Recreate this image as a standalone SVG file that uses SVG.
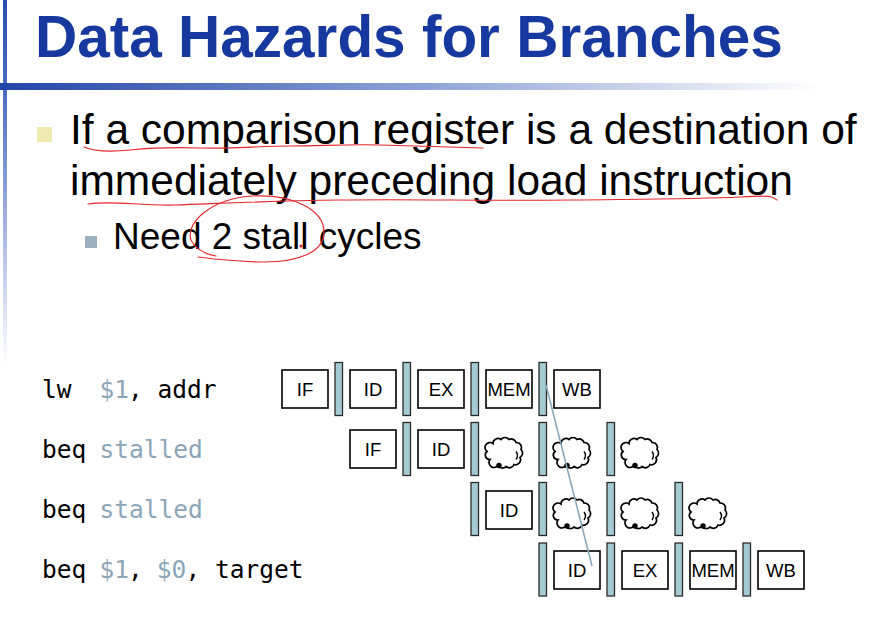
<svg xmlns="http://www.w3.org/2000/svg" xmlns:xlink="http://www.w3.org/1999/xlink" width="892" height="619" viewBox="0 0 892 619">
  <defs>
    <linearGradient id="rule-h" x1="0" y1="0" x2="1" y2="0">
      <stop offset="0" stop-color="#2244a8"/>
      <stop offset="0.5" stop-color="#8aa0d4"/>
      <stop offset="1" stop-color="#ffffff"/>
    </linearGradient>
    <linearGradient id="rule-v" x1="0" y1="0" x2="0" y2="1">
      <stop offset="0" stop-color="#2a4fb0"/>
      <stop offset="0.25" stop-color="#4d6cc0"/>
      <stop offset="1" stop-color="#ffffff"/>
    </linearGradient>
    <!-- bubble used for a stalled stage -->
    <g id="cloud">
      <path d="M5,22 A4.5,4.5 0 0 1 2,14 A5,5 0 0 1 8,6 A5,5 0 0 1 16,2 A5,5 0 0 1 24,2 A5,5 0 0 1 31,5 A5,5 0 0 1 36,12 A5,5 0 0 1 35,20 A5,5 0 0 1 29,27 A5,5 0 0 1 21,29 A5,5 0 0 1 13,28 A5,5 0 0 1 5,22 Z" fill="#fff" stroke="#000" stroke-width="1.7"/>
      <path d="M31,14 Q34,18 31,22" fill="none" stroke="#000" stroke-width="1.4"/>
      <circle cx="14" cy="28" r="2.7" fill="#000"/>
    </g>
  </defs>
  <style>
    .title { font-family: "Liberation Sans", Arial, sans-serif; font-weight: bold; font-size: 58.5px; fill: #17399f; }
    .body { font-family: "Liberation Sans", Arial, sans-serif; fill: #000; }
    .box { fill: #fff; stroke: #000; stroke-width: 1.6; }
    .bar { fill: #a4cad3; stroke: #2b2b2b; stroke-width: 1.3; }
    .lbl { font-family: "Liberation Sans", Arial, sans-serif; font-size: 18.5px; text-anchor: middle; fill: #000; }
    .code { font-family: "DejaVu Sans Mono", monospace; font-size: 24.5px; fill: #000; white-space: pre; }
    .dim { fill: #8ca5b8; }
    .ink { fill: none; stroke: #e3262b; stroke-width: 1.2; stroke-linecap: round; }
  </style>

  <rect width="892" height="619" fill="#fff"/>

  <!-- slide frame rules -->
  <rect x="3" y="0" width="4" height="365" fill="url(#rule-v)"/>
  <rect x="0" y="83" width="820" height="7" fill="url(#rule-h)"/>

  <text class="title" x="35" y="57">Data Hazards for Branches</text>

  <!-- bullets -->
  <rect x="37" y="127" width="15" height="15" fill="#eeeab0"/>
  <text class="body" x="70" y="144" font-size="42.5">If a comparison register is a destination of</text>
  <text class="body" x="70" y="195" font-size="42.5">immediately preceding load instruction</text>
  <rect x="85" y="236" width="12" height="12" fill="#9cb0c2"/>
  <text class="body" x="113" y="249" font-size="37">Need 2 stall cycles</text>

  <!-- hand annotations -->
  <g id="annotations">
    <path class="ink" d="M84,147 C95,152 110,152 130,150 S170,147 200,148 S260,146 290,146 S350,144 380,145 S440,147 483,148"/>
    <path class="ink" d="M88,204 C110,200 140,206 175,205 S260,201 340,200 S480,201 570,200 S700,199 740,197 S770,197 777,200"/>
    <path class="ink" d="M216,256 C205,254 196,250 191,240 C185,222 213,198 253,196 C293,194 324,210 324,232 C324,252 299,262 264,262 C239,262 214,259 198,257"/>
    <circle cx="301" cy="246" r="1.6" fill="#e3262b"/>
  </g>

  <!-- instruction column, laid out on a fixed character grid -->
  <g id="instructions">
    <text class="code" x="42" y="398">lw</text>
    <text class="code dim" x="99.4" y="398">$1</text>
    <text class="code" x="128.1" y="398" xml:space="preserve">, addr</text>

    <text class="code" x="42" y="458">beq</text>
    <text class="code dim" x="99.4" y="458">stalled</text>

    <text class="code" x="42" y="518">beq</text>
    <text class="code dim" x="99.4" y="518">stalled</text>

    <text class="code" x="42" y="578">beq</text>
    <text class="code dim" x="99.4" y="578">$1</text>
    <text class="code" x="128.1" y="578">,</text>
    <text class="code dim" x="156.8" y="578">$0</text>
    <text class="code" x="185.5" y="578" xml:space="preserve">, target</text>
  </g>

  <!-- pipeline registers -->
  <g id="registers">
    <rect class="bar" x="335" y="362.5" width="7.5" height="53"/>
    <rect class="bar" x="403" y="362.5" width="7.5" height="53"/>
    <rect class="bar" x="471" y="362.5" width="7.5" height="53"/>
    <rect class="bar" x="539" y="362.5" width="7.5" height="53"/>

    <rect class="bar" x="403" y="422.5" width="7.5" height="53"/>
    <rect class="bar" x="471" y="422.5" width="7.5" height="53"/>
    <rect class="bar" x="539" y="422.5" width="7.5" height="53"/>
    <rect class="bar" x="607" y="422.5" width="7.5" height="53"/>

    <rect class="bar" x="471" y="482.5" width="7.5" height="53"/>
    <rect class="bar" x="539" y="482.5" width="7.5" height="53"/>
    <rect class="bar" x="607" y="482.5" width="7.5" height="53"/>
    <rect class="bar" x="675" y="482.5" width="7.5" height="53"/>

    <rect class="bar" x="539" y="543" width="7.5" height="53"/>
    <rect class="bar" x="607" y="543" width="7.5" height="53"/>
    <rect class="bar" x="675" y="543" width="7.5" height="53"/>
    <rect class="bar" x="743" y="543" width="7.5" height="53"/>
  </g>

  <!-- lw $1, addr -->
  <g id="lw-if"><rect class="box" x="282" y="370" width="46" height="38"/><text class="lbl" x="305" y="396">IF</text></g>
  <g id="lw-id"><rect class="box" x="350" y="370" width="46" height="38"/><text class="lbl" x="373" y="396">ID</text></g>
  <g id="lw-ex"><rect class="box" x="418" y="370" width="46" height="38"/><text class="lbl" x="441" y="396">EX</text></g>
  <g id="lw-mem"><rect class="box" x="486" y="370" width="46" height="38"/><text class="lbl" x="509" y="396">MEM</text></g>
  <g id="lw-wb"><rect class="box" x="554" y="370" width="46" height="38"/><text class="lbl" x="577" y="396">WB</text></g>

  <!-- beq, first stalled slot -->
  <g id="s1-if"><rect class="box" x="350" y="430" width="46" height="38"/><text class="lbl" x="373" y="456">IF</text></g>
  <g id="s1-id"><rect class="box" x="418" y="430" width="46" height="38"/><text class="lbl" x="441" y="456">ID</text></g>
  <g id="s1-b1"><use xlink:href="#cloud" x="485" y="437.5"/></g>
  <g id="s1-b2"><use xlink:href="#cloud" x="553" y="437.5"/></g>
  <g id="s1-b3"><use xlink:href="#cloud" x="621" y="437.5"/></g>

  <!-- beq, second stalled slot -->
  <g id="s2-id"><rect class="box" x="486" y="491" width="46" height="38"/><text class="lbl" x="509" y="517">ID</text></g>
  <g id="s2-b1"><use xlink:href="#cloud" x="553" y="498"/></g>
  <g id="s2-b2"><use xlink:href="#cloud" x="621" y="498"/></g>
  <g id="s2-b3"><use xlink:href="#cloud" x="689" y="498"/></g>

  <!-- beq $1, $0, target -->
  <g id="beq-id"><rect class="box" x="554" y="551" width="46" height="38"/><text class="lbl" x="577" y="577">ID</text></g>
  <g id="beq-ex"><rect class="box" x="622" y="551" width="46" height="38"/><text class="lbl" x="645" y="577">EX</text></g>
  <g id="beq-mem"><rect class="box" x="690" y="551" width="46" height="38"/><text class="lbl" x="713" y="577">MEM</text></g>
  <g id="beq-wb"><rect class="box" x="758" y="551" width="46" height="38"/><text class="lbl" x="781" y="577">WB</text></g>

  <!-- forwarding path from MEM/WB to ID -->
  <g id="connectors">
    <line x1="546" y1="385" x2="592" y2="566" stroke="#8ba7bb" stroke-width="1.6"/>
  </g>
</svg>
